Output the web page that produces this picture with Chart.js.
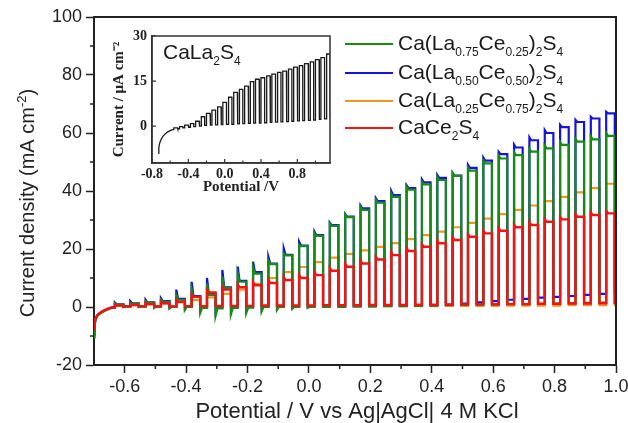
<!DOCTYPE html>
<html>
<head>
<meta charset="utf-8">
<script src="https://cdn.jsdelivr.net/npm/chart.js@4.4.1/dist/chart.umd.min.js"></script>
<style>
  body { margin: 0; background: #fff; }
  #wrap { position: relative; width: 628px; height: 423px; overflow: hidden;
          font-family: "Liberation Sans", Arial, sans-serif; color: #1a1a1a; }
  #main { position: absolute; left: 0; top: 0; }
  #inset { position: absolute; left: 108px; top: 28px; }
  .row { position: absolute; left: 345px; height: 24px; display: flex; align-items: center; white-space: nowrap; }
  .sw { width: 48px; height: 0; border-top: 2px solid; margin-right: 5px; }
  .lbl, .tag { font-size: 21px; line-height: 24px; }
  .tag { position: absolute; left: 163px; top: 40px; white-space: nowrap; }
  sub { font-size: 12px; vertical-align: baseline; position: relative; top: 6px; }
</style>
</head>
<body>
<div id="wrap">
  <canvas id="main" width="628" height="423"></canvas>
  <canvas id="inset" width="228" height="172"></canvas>
  <div class="tag">CaLa<sub>2</sub>S<sub>4</sub></div>
  <div class="row" style="top:32px"><div class="sw" style="color:#178a17"></div><span class="lbl">Ca(La<sub>0.75</sub>Ce<sub>0.25</sub>)<sub>2</sub>S<sub>4</sub></span></div>
  <div class="row" style="top:61px"><div class="sw" style="color:#1414dc"></div><span class="lbl">Ca(La<sub>0.50</sub>Ce<sub>0.50</sub>)<sub>2</sub>S<sub>4</sub></span></div>
  <div class="row" style="top:89px"><div class="sw" style="color:#f0961e"></div><span class="lbl">Ca(La<sub>0.25</sub>Ce<sub>0.75</sub>)<sub>2</sub>S<sub>4</sub></span></div>
  <div class="row" style="top:116px"><div class="sw" style="color:#f01414"></div><span class="lbl">CaCe<sub>2</sub>S<sub>4</sub></span></div>
</div>
<script>
// axis ticks
const xTicks = [-0.6, -0.4, -0.2, 0.0, 0.2, 0.4, 0.6, 0.8, 1.0];
const xMinor = [-0.5, -0.3, -0.1, 0.1, 0.3, 0.5, 0.7, 0.9];
const yTicks = [-20, 0, 20, 40, 60, 80, 100];
const yMinor = [-10, 10, 30, 50, 70, 90];
const insetXTicks = [-0.8, -0.4, 0.0, 0.4, 0.8];
const insetXMinor = [-0.6, -0.2, 0.2, 0.6, 1.0];
const insetYTicks = [0, 15, 30];

// dark current at the start of the sweep (V, mA cm-2)
const darkV = [-0.700, -0.698, -0.695, -0.690, -0.684, -0.676, -0.666, -0.654, -0.642];
const darkGreen = [-10.5, -6.5, -4.5, -3.2, -2.6, -2.0, -1.4, -0.8, -0.3];
const darkBlue = [-9.5, -6.2, -4.3, -3.0, -2.4, -1.8, -1.2, -0.6, -0.1];
const darkOrange = [-8.5, -5.8, -4.1, -3.0, -2.4, -1.8, -1.2, -0.7, -0.2];
const darkRed = [-7.5, -5.2, -3.9, -2.9, -2.3, -1.7, -1.1, -0.6, -0.2];

// potential where the light is switched on, and how long it stays on (V)
const lightOn = [-0.632, -0.582, -0.532, -0.482, -0.432, -0.382, -0.332, -0.282, -0.232, -0.182,
  -0.132, -0.082, -0.032, 0.018, 0.068, 0.118, 0.168, 0.218, 0.268, 0.318, 0.368, 0.418, 0.468,
  0.518, 0.568, 0.618, 0.668, 0.718, 0.768, 0.818, 0.868, 0.918, 0.968];
const onWidth = 0.028;
const settle = 0.006;

// per light pulse: transient peak, steady value, dip after switch-off, dark level
const greenSpike = [1.2, 1.5, 2.0, 2.5, 4.0, 6.0, 8.0, 10.5, 11.5, 13.5, 16.0, 18.5, 21.5, 25.5, 29.0, 32.0, 34.5, 37.0, 39.0, 41.5, 43.2, 44.8, 46.2, 48.0, 50.5, 52.2, 53.4, 54.6, 55.7, 56.9, 58.0, 58.8, 60.0];
const greenOn = [0.8, 1.2, 1.5, 1.8, 2.5, 3.5, 4.2, 6.5, 8.7, 11.5, 14.8, 17.8, 21.0, 24.5, 28.0, 31.0, 33.5, 36.0, 38.0, 40.5, 42.3, 43.8, 45.2, 47.0, 49.5, 51.2, 52.4, 53.6, 54.7, 55.9, 57.0, 57.8, 59.0];
const greenDip = [0.0, 0.0, -0.3, -0.5, -1.0, -2.0, -3.0, -2.5, -2.0, -1.5, -1.0, -0.6, -0.3, 0.0, 0.0, 0.2, 0.2, 0.3, 0.3, 0.4, 0.5, 0.6, 0.7, 0.8, 0.9, 1.0, 1.0, 1.1, 1.2, 1.3, 1.4, 1.5, 1.6];
const greenOff = [0.2, 0.2, 0.1, 0.0, 0.0, -0.3, -0.5, -0.3, -0.2, 0.0, 0.0, 0.0, 0.0, 0.0, 0.0, 0.2, 0.2, 0.3, 0.3, 0.4, 0.5, 0.6, 0.7, 0.8, 0.9, 1.0, 1.0, 1.1, 1.2, 1.3, 1.4, 1.5, 1.6];

const blueSpike = [1.5, 2.0, 2.5, 3.0, 6.0, 8.7, 10.0, 12.8, 13.9, 15.6, 17.3, 20.2, 22.5, 26.0, 29.0, 32.0, 35.0, 37.5, 40.0, 42.0, 44.0, 45.5, 46.2, 49.0, 51.5, 53.5, 56.0, 58.5, 61.0, 62.8, 64.5, 65.6, 67.3];
const blueOn = [0.9, 1.3, 1.6, 2.0, 2.8, 3.8, 4.5, 6.8, 9.0, 12.0, 15.0, 18.0, 21.2, 24.8, 28.2, 31.2, 34.0, 36.5, 38.6, 41.0, 43.0, 44.5, 45.3, 48.0, 50.5, 52.7, 55.0, 57.5, 60.0, 62.0, 63.8, 65.0, 66.8];
const blueDip = [0.1, 0.1, -0.2, -0.3, -0.6, -1.2, -1.8, -1.5, -1.2, -0.8, -0.5, -0.3, 0.0, 0.1, 0.2, 0.3, 0.3, 0.4, 0.4, 0.5, 0.6, 0.8, 1.2, 1.6, 2.0, 2.5, 2.8, 3.2, 3.5, 3.8, 4.2, 4.5, 4.8];
const blueOff = [0.3, 0.3, 0.2, 0.1, 0.1, -0.1, -0.2, -0.1, 0.0, 0.1, 0.2, 0.2, 0.2, 0.2, 0.2, 0.3, 0.3, 0.4, 0.4, 0.5, 0.6, 0.8, 1.2, 1.6, 2.0, 2.5, 2.8, 3.2, 3.5, 3.8, 4.2, 4.5, 4.8];

const orangeOn = [0.4, 0.6, 0.9, 1.2, 1.6, 2.4, 3.3, 4.5, 6.0, 8.0, 10.0, 12.0, 13.8, 15.5, 17.0, 18.3, 19.5, 20.7, 22.0, 23.4, 24.8, 26.0, 27.5, 29.0, 30.5, 32.0, 33.5, 35.0, 36.5, 38.0, 39.5, 41.0, 42.5];
const orangeOff = [0.0, 0.0, 0.0, 0.0, 0.0, 0.0, 0.1, 0.1, 0.1, 0.1, 0.1, 0.2, 0.2, 0.2, 0.2, 0.2, 0.3, 0.3, 0.3, 0.3, 0.3, 0.4, 0.4, 0.4, 0.4, 0.5, 0.5, 0.5, 0.5, 0.6, 0.6, 0.6, 0.6];

const redSpike = [0.8, 1.0, 1.4, 1.8, 2.5, 4.3, 5.8, 7.0, 7.8, 8.5, 9.3, 10.3, 11.0, 12.0, 13.4, 14.8, 15.9, 17.3, 18.8, 20.2, 21.6, 22.8, 23.9, 25.0, 26.2, 27.1, 28.3, 29.1, 30.2, 31.0, 31.9, 32.5, 33.1];
const redOn = [0.5, 0.7, 1.0, 1.3, 1.8, 3.5, 5.0, 6.0, 6.8, 7.5, 8.3, 9.3, 10.0, 11.0, 12.5, 13.9, 15.0, 16.4, 17.9, 19.3, 20.8, 22.0, 23.1, 24.2, 25.4, 26.3, 27.5, 28.3, 29.4, 30.2, 31.1, 31.7, 32.3];
const redOff = [0.2, 0.2, 0.2, 0.2, 0.3, 0.3, 0.4, 0.4, 0.4, 0.5, 0.5, 0.5, 0.5, 0.6, 0.6, 0.6, 0.7, 0.7, 0.7, 0.8, 0.8, 0.8, 0.9, 0.9, 0.9, 1.0, 1.0, 1.1, 1.1, 1.2, 1.2, 1.3, 1.4];

// inset, CaLa2S4 (uA cm-2)
const insetDarkV = [-0.730, -0.725, -0.715, -0.700, -0.680, -0.655, -0.630, -0.600, -0.575];
const insetDark = [-9.1, -7.2, -5.6, -4.5, -3.4, -2.6, -2.0, -1.5, -1.2];
const insetLightOn = [-0.56, -0.50, -0.44, -0.38, -0.32, -0.26, -0.20, -0.14, -0.08, -0.02, 0.04, 0.10,
  0.16, 0.22, 0.28, 0.34, 0.40, 0.46, 0.52, 0.58, 0.64, 0.70, 0.76, 0.82, 0.88, 0.94, 1.00, 1.06, 1.12];
const insetOnWidth = 0.04;
const insetOn = [-0.6, -0.2, 0.3, 0.8, 1.6, 3.1, 4.2, 5.3, 6.4, 7.9, 9.6, 11.2, 12.2, 13.3, 14.8, 15.6, 16.1, 16.7, 17.3, 17.9, 18.3, 19.0, 19.6, 20.1, 20.8, 21.4, 22.1, 22.8, 24.0];
const insetOff = [-0.9, -0.6, -0.4, -0.2, 0.0, 0.2, 0.3, 0.4, 0.5, 0.6, 0.6, 0.7, 0.8, 0.9, 1.0, 1.0, 1.1, 1.2, 1.3, 1.4, 1.5, 1.6, 1.7, 1.8, 1.9, 2.0, 2.2, 2.4, 2.6];

const sans = '"Liberation Sans", Arial, sans-serif';
const serif = '"Liberation Serif", "Times New Roman", serif';
const ink = '#222';

// turn the per-pulse values into the chopped-light trace
function chopped(startV, dark, rises, width, spike, on, dip, off, endV) {
  const pts = startV.map((x, i) => ({ x: x, y: dark[i] }));
  let level = dark[dark.length - 1];
  rises.forEach((r, i) => {
    const f = r + width;
    pts.push({ x: r, y: level }, { x: r, y: spike[i] }, { x: r + settle, y: on[i] },
      { x: f, y: on[i] }, { x: f, y: dip[i] }, { x: f + settle, y: off[i] });
    level = off[i];
  });
  pts.push({ x: endV, y: level });
  return pts;
}

const frame = {
  id: 'frame',
  afterDraw(chart, args, o) {
    const { ctx, chartArea: a, scales } = chart;
    ctx.save();
    ctx.strokeStyle = o.color;
    ctx.lineWidth = o.width;
    ctx.beginPath();
    ctx.moveTo(a.left, a.top);
    ctx.lineTo(a.right, a.top);
    ctx.lineTo(a.right, a.bottom);
    if (o.full) { ctx.lineTo(a.left, a.bottom); ctx.closePath(); }
    ctx.stroke();
    ctx.lineWidth = o.tickWidth;
    ctx.beginPath();
    o.marks.forEach(m => {
      m.values.forEach(v => {
        if (m.axis === 'x') {
          const px = scales.x.getPixelForValue(v);
          ctx.moveTo(px, a.bottom);
          ctx.lineTo(px, a.bottom + m.len);
        } else {
          const py = scales.y.getPixelForValue(v);
          ctx.moveTo(a.left, py);
          ctx.lineTo(a.left - m.len, py);
        }
      });
    });
    ctx.stroke();
    if (o.titles) {
      ctx.fillStyle = ink;
      ctx.textBaseline = 'alphabetic';
      ctx.textAlign = 'center';
      ctx.font = '22px ' + sans;
      ctx.fillText('Potential / V vs Ag|AgCl| 4 M KCl', (a.left + a.right) / 2 + 2, 418);
      // y title with superscript
      ctx.translate(34, 203);
      ctx.rotate(-Math.PI / 2);
      ctx.textAlign = 'left';
      const big = '20px ' + sans, small = '13px ' + sans;
      const p1 = 'Current density (mA cm', p2 = '-2', p3 = ')';
      ctx.font = big; const w1 = ctx.measureText(p1).width, w3 = ctx.measureText(p3).width;
      ctx.font = small; const w2 = ctx.measureText(p2).width;
      let x0 = -(w1 + w2 + w3) / 2;
      ctx.font = big; ctx.fillText(p1, x0, 0);
      ctx.font = small; ctx.fillText(p2, x0 + w1, -8);
      ctx.font = big; ctx.fillText(p3, x0 + w1 + w2, 0);
    }
    ctx.restore();
  }
};

new Chart(document.getElementById('main'), {
  type: 'line',
  data: {
    datasets: [
      { label: 'Ca(La0.75Ce0.25)2S4', borderColor: '#178a17', order: 1,
        data: chopped(darkV, darkGreen, lightOn, onWidth, greenSpike, greenOn, greenDip, greenOff, 1.0) },
      { label: 'Ca(La0.50Ce0.50)2S4', borderColor: '#1414dc', order: 2,
        data: chopped(darkV, darkBlue, lightOn, onWidth, blueSpike, blueOn, blueDip, blueOff, 1.0) },
      { label: 'Ca(La0.25Ce0.75)2S4', borderColor: '#f0961e', order: 3,
        data: chopped(darkV, darkOrange, lightOn, onWidth, orangeOn, orangeOn, orangeOff, orangeOff, 1.0) },
      { label: 'CaCe2S4', borderColor: '#f01414', order: 0, borderWidth: 2.4,
        data: chopped(darkV, darkRed, lightOn, onWidth, redSpike, redOn, redOff, redOff, 1.0) }
    ]
  },
  options: {
    responsive: false,
    animation: false,
    devicePixelRatio: 1,
    elements: { point: { radius: 0 }, line: { borderWidth: 2.2, tension: 0 } },
    layout: { padding: { top: 17, right: 12, left: 0, bottom: 0 } },
    plugins: {
      legend: { display: false },
      tooltip: { enabled: false },
      frame: { color: ink, width: 2, tickWidth: 1.5, titles: true,
        marks: [{ axis: 'x', values: xMinor, len: 4 }, { axis: 'y', values: yMinor, len: 4 }] }
    },
    scales: {
      x: {
        type: 'linear', min: -0.7, max: 1.0,
        afterBuildTicks: s => { s.ticks = xTicks.map(v => ({ value: v })); },
        afterFit: s => { s.height = 58; s.paddingLeft = 0; s.paddingRight = 0; },
        grid: { drawOnChartArea: false, tickLength: 8, tickWidth: 1.5, tickColor: ink, color: ink },
        border: { color: ink, width: 2 },
        ticks: { autoSkip: false, maxRotation: 0, padding: 3, color: ink,
          font: { family: sans, size: 18 }, callback: v => v.toFixed(1) }
      },
      y: {
        min: -20, max: 100,
        afterBuildTicks: s => { s.ticks = yTicks.map(v => ({ value: v })); },
        afterFit: s => { s.width = 94; s.paddingTop = 0; s.paddingBottom = 0; },
        grid: { drawOnChartArea: false, tickLength: 8, tickWidth: 1.5, tickColor: ink, color: ink },
        border: { color: ink, width: 2 },
        ticks: { autoSkip: false, padding: 4, color: ink, font: { family: sans, size: 18 } }
      }
    }
  },
  plugins: [frame]
});

new Chart(document.getElementById('inset'), {
  type: 'line',
  data: {
    datasets: [{ label: 'CaLa2S4', borderColor: '#1a1a1a', borderWidth: 1.3,
      data: chopped(insetDarkV, insetDark, insetLightOn, insetOnWidth, insetOn, insetOn, insetOff, insetOff, 1.16) }]
  },
  options: {
    responsive: false,
    animation: false,
    devicePixelRatio: 1,
    elements: { point: { radius: 0 }, line: { tension: 0 } },
    layout: { padding: { top: 8, right: 6, left: 0, bottom: 0 } },
    plugins: {
      legend: { display: false },
      tooltip: { enabled: false },
      frame: { color: '#333', width: 1.5, tickWidth: 1.2, full: true,
        marks: [{ axis: 'x', values: insetXTicks, len: -4 }, { axis: 'x', values: insetXMinor, len: -2.5 },
                { axis: 'y', values: insetYTicks, len: -4 }] }
    },
    scales: {
      x: {
        type: 'linear', min: -0.8, max: 1.16,
        afterBuildTicks: s => { s.ticks = insetXTicks.map(v => ({ value: v })); },
        afterFit: s => { s.height = 37; s.paddingLeft = 0; s.paddingRight = 0; },
        grid: { drawOnChartArea: false, drawTicks: false },
        border: { color: '#333', width: 1.5 },
        ticks: { autoSkip: false, maxRotation: 0, padding: 3, color: ink,
          font: { family: serif, size: 14, weight: 'bold' }, callback: v => v.toFixed(1) },
        title: { display: true, text: 'Potential /V', color: ink, padding: { top: 0, bottom: 4 },
          font: { family: serif, size: 15, weight: 'bold' } }
      },
      y: {
        min: -12.3, max: 30,
        afterBuildTicks: s => { s.ticks = insetYTicks.map(v => ({ value: v })); },
        afterFit: s => { s.width = 44; s.paddingTop = 0; s.paddingBottom = 0; },
        grid: { drawOnChartArea: false, drawTicks: false },
        border: { color: '#333', width: 1.5 },
        ticks: { autoSkip: false, padding: 5, color: ink, font: { family: serif, size: 14, weight: 'bold' } },
        title: { display: true, text: 'Current / \u03BCA cm\u207B\u00B2', color: ink, padding: { top: 2, bottom: 0 },
          font: { family: serif, size: 15, weight: 'bold' } }
      }
    }
  },
  plugins: [frame]
});
</script>
</body>
</html>
